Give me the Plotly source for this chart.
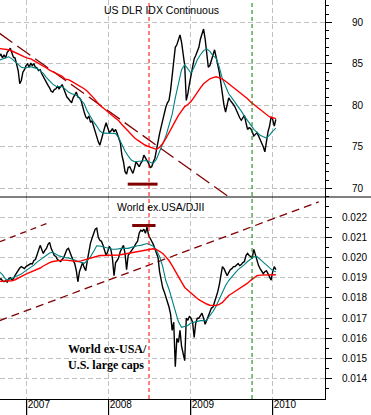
import pandas as pd
import plotly.graph_objects as go

# ---------------- data ----------------
week_dates = pd.date_range("2006-09-01", periods=177, freq="7D")
ma_dates = week_dates[::2]

dxy_close = [
    85.9, 86.2, 85.7, 86.1, 85.7, 86.4, 86.6, 86.9, 86.3, 85.8,
    85.7, 85.0, 84.2, 82.6, 83.0, 84.0, 84.3, 84.8, 85.0, 84.6,
    85.1, 84.8, 85.0, 84.6, 84.5, 84.2, 84.3, 83.8, 83.4, 83.0,
    82.8, 82.4, 82.1, 81.7, 81.6, 81.9, 82.0, 82.3, 82.0, 82.2,
    82.5, 82.0, 81.4, 81.0, 80.8, 80.5, 80.3, 80.9, 81.2, 81.6,
    81.0, 80.9, 80.6, 79.8, 79.2, 78.6, 78.4, 78.7, 78.0, 78.1,
    77.5, 76.8, 76.0, 75.6, 75.2, 76.0, 76.7, 77.3, 77.9, 77.2,
    76.7, 76.9, 77.2, 76.8, 77.1, 76.6, 76.0, 75.5, 74.0, 73.2,
    72.0, 71.7, 72.5, 72.6, 72.2, 71.8, 72.4, 73.2, 72.9, 72.6,
    73.0, 73.3, 74.0, 73.7, 73.3, 73.0, 72.5, 72.6, 73.2, 73.6,
    74.6, 75.8, 76.6, 77.4, 78.2, 79.2, 79.8, 80.3, 80.6, 81.8,
    83.4, 84.9, 87.0, 87.3, 87.8, 88.5, 87.6, 86.2, 84.8, 80.6,
    81.4, 82.6, 83.6, 84.5, 85.6, 86.0, 86.6, 87.0, 88.0, 88.5,
    89.2, 88.0, 86.5, 84.6, 84.8, 85.4, 86.2, 86.7, 85.8, 85.0,
    84.0, 82.7, 81.2, 80.0, 79.2, 80.2, 80.9, 80.6, 80.4, 80.1,
    79.8, 79.3, 78.9, 78.5, 78.2, 78.6, 78.8, 77.9, 77.1, 77.3,
    77.2, 76.8, 76.3, 76.5, 76.7, 76.3, 75.9, 75.5, 75.0, 74.4,
    75.9, 76.8, 77.5, 78.6, 78.3, 77.5, 78.3,
]
dxy_ma_short = [
    85.45, 85.6, 85.7, 85.85, 85.6, 85.25, 84.9, 84.6, 84.5, 84.6,
    84.65, 84.55, 84.45, 84.15, 83.85, 83.35, 82.9, 82.55, 82.3, 82.25,
    82.25, 81.95, 81.6, 81.4, 81.3, 81.1, 80.7, 80.2, 79.3, 78.6,
    78.0, 77.5, 76.9, 76.65, 76.65, 76.65, 76.65, 76.6, 76.1, 75.2,
    74.5, 73.9, 73.4, 73.2, 73.25, 73.3, 73.35, 73.35, 73.15, 73.0,
    73.5, 74.5, 75.5, 76.3, 77.6, 78.9, 80.9, 82.6, 84.3, 84.9,
    84.4, 83.9, 84.6, 85.5, 86.1, 86.6, 86.8, 86.5, 86.0, 85.7,
    84.6, 83.2, 82.3, 81.4, 80.9, 80.4, 79.8, 79.3, 78.7, 78.1,
    77.65, 77.1, 76.7, 76.4, 76.2, 76.05, 76.4, 76.9, 77.25,
]
dxy_ma_long = [
    86.85, 86.8, 86.75, 86.7, 86.55, 86.35, 86.15, 85.95, 85.85, 85.7,
    85.6, 85.4, 85.2, 85.0, 84.8, 84.5, 84.25, 84.05, 83.9, 83.7,
    83.5, 83.15, 83.1, 82.9, 82.7, 82.45, 82.3, 82.0, 81.7, 81.35,
    80.9, 80.45, 80.0, 79.7, 79.35, 79.05, 78.75, 78.45, 78.15, 77.7,
    77.3, 76.85, 76.45, 76.1, 75.8, 75.5, 75.3, 75.1, 74.95, 74.85,
    74.7, 74.95, 75.4, 76.0, 76.75, 77.4, 78.1, 78.8, 79.3, 79.85,
    80.1, 80.45, 81.0, 81.6, 82.1, 82.6, 82.9, 83.2, 83.35, 83.45,
    83.3, 83.15, 82.9, 82.6, 82.35, 82.1, 81.8, 81.45, 81.2, 80.8,
    80.4, 80.1, 79.75, 79.4, 79.1, 78.8, 78.6, 78.5, 78.4,
]

ratio_close = [
    .01890, .01895, .01885, .01880, .01885, .01878, .01895, .01900, .01890, .01895,
    .01912, .01925, .01937, .01948, .01955, .01950, .01945, .01955, .01960, .01962,
    .01970, .01968, .01985, .01990, .02010, .02030, .02060, .02040, .02020, .02035,
    .02045, .02065, .02075, .02045, .02025, .02010, .02005, .01990, .01985, .01980,
    .01990, .02000, .02020, .02040, .02045, .02020, .02005, .01985, .01970, .01935,
    .01880, .01930, .01950, .01975, .01950, .01935, .01985, .02040, .02070, .02095,
    .02120, .02140, .02145, .02100, .02085, .02080, .02060, .02040, .02010, .02030,
    .02055, .02040, .01995, .01910, .01975, .01985, .02000, .02030, .02045, .02060,
    .02020, .01940, .02010, .02020, .02030, .02040, .02055, .02070, .02080, .02120,
    .02135, .02130, .02140, .02120, .02150, .02110, .02090, .02080, .02065, .02040,
    .02025, .02000, .01930, .01880, .01850, .01830, .01810, .01780, .01755, .01720,
    .01640, .01680, .01460, .01600, .01580, .01640, .01560, .01530, .01490, .01700,
    .01690, .01710, .01700, .01680, .01605, .01675, .01700, .01700, .01715, .01725,
    .01700, .01670, .01690, .01710, .01730, .01750, .01755, .01780, .01800, .01830,
    .01865, .01920, .01955, .01945, .01925, .01910, .01925, .01940, .01945, .01955,
    .01955, .01965, .01970, .01960, .01965, .01975, .01980, .02010, .02020, .02010,
    .02005, .02000, .02040, .02010, .01985, .01960, .01945, .01930, .01920, .01930,
    .01935, .01920, .01900, .01888, .01930, .01955, .01940,
]
ratio_ma_short = [
    .01930, .01915, .01893, .01890, .01897, .01903, .01909, .01918, .01930, .01940,
    .01951, .01962, .01977, .01988, .01999, .02010, .02022, .02026, .02017, .02008,
    .02004, .01999, .01998, .01994, .01988, .01980, .01975, .01971, .01985, .02003,
    .02030, .02058, .02057, .02053, .02047, .02044, .02041, .02041, .02044, .02045,
    .02045, .02045, .02050, .02055, .02058, .02060, .02064, .02069, .02063, .02056,
    .02034, .02005, .01955, .01885, .01843, .01790, .01729, .01682, .01655, .01658,
    .01664, .01676, .01681, .01686, .01688, .01688, .01690, .01713, .01733, .01760,
    .01796, .01827, .01862, .01886, .01907, .01923, .01940, .01951, .01965, .01980,
    .01993, .02003, .02005, .01990, .01978, .01963, .01945, .01935, .01929,
]
ratio_ma_long = [
    .01882, .01882, .01882, .01883, .01885, .01890, .01897, .01905, .01914, .01922,
    .01928, .01935, .01940, .01948, .01958, .01968, .01975, .01980, .01983, .01986,
    .01987, .01987, .01986, .01984, .01982, .01980, .01983, .01988, .01993, .01997,
    .02003, .02008, .02010, .02010, .02010, .02010, .02010, .02010, .02012, .02015,
    .02018, .02020, .02023, .02026, .02029, .02031, .02035, .02038, .02041, .02043,
    .02040, .02030, .02020, .02003, .01985, .01960, .01935, .01905, .01878, .01852,
    .01838, .01822, .01810, .01797, .01787, .01777, .01770, .01764, .01763, .01763,
    .01768, .01778, .01795, .01812, .01822, .01832, .01840, .01850, .01862, .01873,
    .01887, .01900, .01910, .01913, .01914, .01915, .01915, .01915, .01915,
]

# trend lines / markers drawn on the chart
dxy_trend_dates = ["2006-09-01", "2009-06-20"]
dxy_trend_values = [88.7, 68.95]
dxy_bar_dates = ["2008-03-26", "2008-08-06"]
dxy_bar_values = [70.5, 70.5]
ratio_trend_hi_dates = ["2006-09-03", "2007-04-04"]
ratio_trend_hi_values = [0.02078, 0.0217]
ratio_trend_lo_dates = ["2006-09-01", "2010-07-25"]
ratio_trend_lo_values = [0.016875, 0.02275]
ratio_bar_dates = ["2008-04-15", "2008-07-28"]
ratio_bar_values = [0.02158, 0.02158]
vline_red_date = "2008-06-29"
vline_green_date = "2009-10-01"
year_ticks = ["2007-01-01", "2008-01-01", "2009-01-01", "2010-01-01"]

x_range = ["2006-09-04", "2010-08-22"]
top_range = [68.95, 92.7]
bot_range = [0.013005, 0.02299]

# ---------------- figure ----------------
W, H = 371, 415
ML, MR, MT, MB = 0, 46, 0, 16
plot_w = W - ML - MR
plot_h = H - MT - MB
split = (399 - 197) / plot_h

BLACK = "#000000"
TEAL = "#008080"
RED = "#ff0000"
MAROON = "#800000"
GRID = "#c0c0c0"
FONT = "Liberation Sans, Arial, sans-serif"

fig = go.Figure()

def add(x, y, color, width, axis, dash=None):
    fig.add_trace(go.Scatter(
        x=x, y=y, mode="lines", xaxis="x" if axis == 1 else "x2",
        yaxis="y" if axis == 1 else "y2",
        line=dict(color=color, width=width, dash=dash),
        hoverinfo="skip", showlegend=False, connectgaps=True,
    ))

# top panel
add(dxy_trend_dates, dxy_trend_values, MAROON, 1.3, 1, "16px,6px")
add(week_dates, dxy_close, BLACK, 1.4, 1)
add(ma_dates, dxy_ma_short, TEAL, 1.1, 1)
add(ma_dates, dxy_ma_long, RED, 1.4, 1)
add(dxy_bar_dates, dxy_bar_values, MAROON, 3, 1)
# bottom panel
add(ratio_trend_hi_dates, ratio_trend_hi_values, MAROON, 1.3, 2, "6px,5px")
add(ratio_trend_lo_dates, ratio_trend_lo_values, MAROON, 1.3, 2, "8px,5px")
add(week_dates, ratio_close, BLACK, 1.4, 2)
add(ma_dates, ratio_ma_short, TEAL, 1.1, 2)
add(ma_dates, ratio_ma_long, RED, 1.4, 2)
add(ratio_bar_dates, ratio_bar_values, MAROON, 3, 2)

xcommon = dict(
    type="date", range=x_range, showgrid=True, gridcolor=GRID, griddash="5px,3px",
    gridwidth=1, tick0="2007-01-01", dtick="M12", zeroline=False,
)
ycommon = dict(
    side="right", showline=True, linecolor=BLACK, linewidth=1, ticks="outside",
    ticklen=6, tickcolor=BLACK, showgrid=True, gridcolor=GRID, griddash="5px,3px",
    zeroline=False, tickfont=dict(family=FONT, size=10, color=BLACK),
)

fig.update_layout(
    width=W, height=H, margin=dict(l=ML, r=MR, t=MT, b=MB),
    paper_bgcolor="white", plot_bgcolor="white", showlegend=False,
    xaxis=dict(**xcommon, anchor="y", showticklabels=False, ticks=""),
    xaxis2=dict(**xcommon, anchor="y2", matches="x", showline=True, linecolor=BLACK,
                ticks="outside", ticklen=16, tickcolor=BLACK, tickformat="%Y",
                ticklabelposition="outside right", ticklabelstandoff=-4,
                tickfont=dict(family=FONT, size=10, color=BLACK)),
    yaxis=dict(**ycommon, domain=[split, 1], range=top_range, dtick=5, tick0=70,
               ticklabelstandoff=18,
               minor=dict(dtick=1, ticks="outside", ticklen=3, tickcolor=BLACK, showgrid=False)),
    yaxis2=dict(**ycommon, domain=[0, split], range=bot_range, dtick=0.001, tick0=0.014,
                tickformat=".3f", ticklabelstandoff=8,
                minor=dict(dtick=0.0005, ticks="outside", ticklen=3, tickcolor=BLACK, showgrid=False)),
)

shapes = []
for d, c in ((vline_red_date, RED), (vline_green_date, "#008000")):
    shapes.append(dict(type="line", xref="x", yref="paper", x0=d, x1=d, y0=0, y1=1,
                       line=dict(color=c, width=1, dash="4px,3px"), layer="above"))
shapes.append(dict(type="line", xref="paper", yref="paper", x0=0, x1=W / plot_w,
                   y0=split, y1=split, line=dict(color=BLACK, width=1)))
for d in year_ticks:
    shapes.append(dict(type="line", xref="x2", yref="paper", x0=d, x1=d,
                       y0=-MB / plot_h, y1=0, line=dict(color=BLACK, width=1)))
fig.update_layout(shapes=shapes)

fig.add_annotation(text="US DLR IDX Continuous", xref="paper", yref="paper",
                   x=161 / plot_w, y=(plot_h - 10) / plot_h, showarrow=False,
                   xanchor="center", yanchor="middle",
                   font=dict(family=FONT, size=10.5, color=BLACK))
fig.add_annotation(text="World ex.USA/DJII", xref="paper", yref="paper",
                   x=160.5 / plot_w, y=(plot_h - 207) / plot_h, showarrow=False,
                   xanchor="center", yanchor="middle",
                   font=dict(family=FONT, size=10.5, color=BLACK))
fig.add_annotation(text="<b>World ex-USA/<br>U.S. large caps</b>", xref="paper", yref="paper",
                   x=66 / plot_w, y=(plot_h - 357) / plot_h, showarrow=False,
                   xanchor="left", yanchor="middle", align="left",
                   font=dict(family="Liberation Serif, Times New Roman, serif", size=12, color=BLACK))

fig.write_html("out.html", config={"displayModeBar": False},
               post_script="document.body.style.margin='0';document.body.style.overflow='hidden';")
